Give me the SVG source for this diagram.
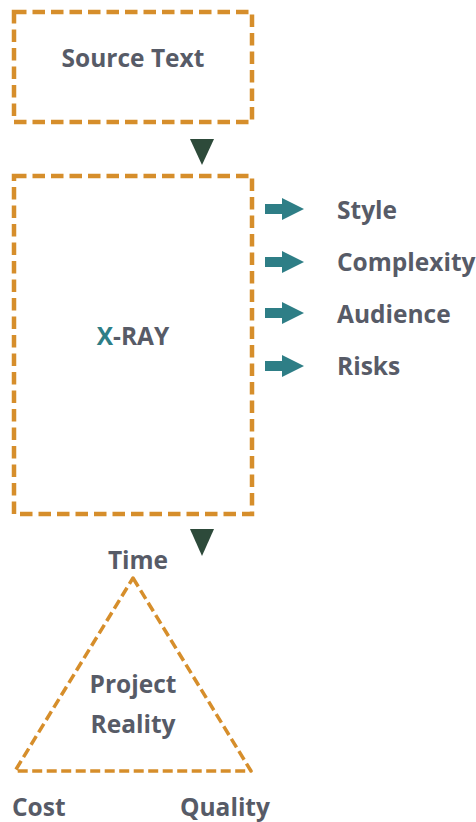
<svg xmlns="http://www.w3.org/2000/svg" width="476" height="822" viewBox="0 0 476 822">
<defs>
<style>
.box{fill:none;stroke:#d68e2b;stroke-width:4.5;stroke-dasharray:12.5 6}
.tri{fill:none;stroke:#d68e2b;stroke-width:3.5;stroke-dasharray:10 4.5;stroke-linejoin:round}
.t{font-family:"Open Sans","Liberation Sans",sans-serif;font-weight:700;font-size:24.5px;fill:#575b67}
.c{text-anchor:middle}
.down{fill:#2d4a3a}
.ar{fill:#2e7e86}
</style>
</defs>
<g id="source">
<rect class="box" x="14" y="12" width="238" height="110"/>
<text class="t c" x="133" y="67">Source Text</text>
</g>
<g id="xray">
<rect class="box" x="14" y="176" width="238" height="338"/>
<text class="t c" x="133" y="345"><tspan fill="#2e7e86">X</tspan>-RAY</text>
</g>
<g id="reality">
<polygon class="tri" points="133,578 251,771 15,771"/>
<text class="t c" x="133" y="693">Project</text>
<text class="t c" x="133" y="733">Reality</text>
<text class="t c" x="138" y="569">Time</text>
<text class="t" x="12" y="816">Cost</text>
<text class="t" x="180" y="816">Quality</text>
</g>
<g id="outputs">
<text class="t" x="337" y="219">Style</text>
<text class="t" x="337" y="271">Complexity</text>
<text class="t" x="337" y="323">Audience</text>
<text class="t" x="337" y="375">Risks</text>
</g>
<g id="connectors">
<polygon class="down" points="190,139 214,139 202,165"/>
<polygon class="down" points="190,529 214,529 202,556"/>
<path class="ar" d="M265,204 H282 V198 L304,209 L282,220 V214 H265 Z"/>
<path class="ar" d="M265,257 H282 V251 L304,262 L282,273 V267 H265 Z"/>
<path class="ar" d="M265,308 H282 V302 L304,313 L282,324 V318 H265 Z"/>
<path class="ar" d="M265,361 H282 V355 L304,366 L282,377 V371 H265 Z"/>
</g>
</svg>
